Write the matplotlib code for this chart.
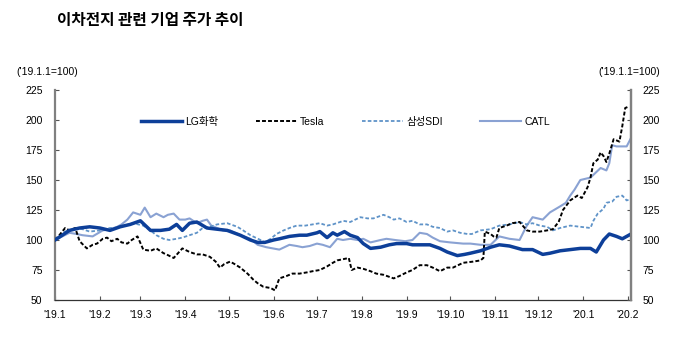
import numpy as np
import pandas as pd
import matplotlib
matplotlib.use("Agg")
import matplotlib.pyplot as plt

plt.rcParams['font.family'] = ['Liberation Sans', 'Noto Sans CJK KR', 'DejaVu Sans']

# days since 2019-01-01, index ('19.1.1 = 100)
lg_days = [0, 5, 10, 17, 24, 31, 38, 45, 52, 59, 66, 73, 79, 84, 88, 93, 98, 105, 112, 119,
           128, 135, 140, 145, 151, 155, 162, 169, 174, 181, 183, 188, 192, 195, 200, 204,
           209, 213, 218, 225, 231, 236, 243, 247, 252, 259, 266, 271, 278, 283, 287, 294,
           301, 307, 314, 323, 330, 337, 342, 349, 356, 363, 370, 374, 379, 383, 388, 392,
           395, 398]
lg_vals = [100, 104, 108, 110, 111, 110, 108, 111, 113, 116, 108, 108, 109, 113, 108, 114, 115,
           110, 109, 108, 104, 100, 98, 98, 100, 101, 103, 104, 104, 106, 107, 102, 106, 104,
           107, 104, 102, 97, 93, 94, 96, 97, 97, 96, 96, 96, 93, 90, 87, 88, 89, 91, 94, 96,
           95, 92, 92, 88, 89, 91, 92, 93, 93, 90, 100, 105, 103, 101, 103, 105]

tesla_days = [0, 3, 7, 10, 14, 17, 22, 26, 29, 33, 36, 39, 43, 46, 50, 53, 57, 61, 66, 70, 75,
              77, 82, 85, 88, 93, 98, 102, 107, 111, 114, 117, 121, 124, 128, 133, 137, 140,
              144, 149, 152, 155, 160, 164, 169, 174, 178, 183, 188, 192, 195, 199, 203, 205,
              209, 213, 218, 222, 227, 234, 238, 243, 247, 252, 257, 261, 266, 271, 275, 282,
              289, 294, 296, 297, 301, 303, 305, 307, 312, 316, 321, 326, 330, 335, 340, 344,
              348, 351, 356, 361, 364, 368, 370, 372, 375, 377, 379, 381, 383, 386, 388, 390,
              392, 394, 396]
tesla_vals = [100, 104, 110, 108, 110, 99, 93, 96, 97, 101, 102, 99, 101, 98, 97, 100, 103, 92,
              91, 93, 89, 88, 85, 89, 93, 90, 88, 88, 86, 82, 77, 80, 82, 80, 77, 72, 67, 64,
              61, 60, 58, 68, 70, 72, 72, 73, 74, 75, 78, 81, 83, 84, 85, 75, 77, 76, 74, 72,
              71, 68, 70, 73, 75, 79, 79, 77, 74, 77, 77, 81, 82, 83, 85, 107, 105, 103, 102,
              110, 112, 114, 115, 108, 107, 107, 108, 109, 115, 125, 133, 137, 135, 144, 152,
              164, 167, 173, 170, 165, 172, 184, 183, 182, 195, 210, 211]

sdi_days = [0, 3, 7, 10, 15, 19, 24, 31, 38, 43, 48, 54, 61, 66, 70, 75, 79, 84, 88, 93, 98,
            102, 107, 112, 119, 126, 130, 135, 142, 145, 149, 153, 158, 162, 167, 173, 178,
            183, 188, 192, 197, 199, 204, 211, 216, 220, 227, 231, 234, 238, 243, 247, 252,
            257, 261, 266, 271, 275, 280, 285, 288, 294, 301, 307, 314, 321, 326, 330, 335,
            340, 344, 349, 356, 363, 370, 372, 375, 379, 381, 385, 388, 392, 395, 398]
sdi_vals = [100, 103, 107, 108, 110, 109, 107, 108, 110, 110, 112, 114, 112, 108, 104, 101,
            100, 101, 102, 104, 106, 110, 111, 113, 114, 111, 108, 104, 100, 98, 101, 105, 108,
            110, 112, 112, 113, 114, 112, 113, 115, 116, 115, 119, 118, 118, 121, 119, 117,
            118, 115, 116, 113, 113, 111, 110, 107, 108, 106, 105, 105, 108, 109, 112, 113,
            115, 113, 114, 112, 111, 108, 110, 112, 111, 110, 116, 122, 126, 131, 132, 136,
            137, 133, 134]

catl_days = [0, 5, 10, 15, 19, 26, 33, 38, 43, 46, 50, 54, 59, 62, 66, 70, 75, 78, 82, 86, 90,
             93, 98, 102, 105, 108, 112, 116, 121, 128, 135, 140, 146, 155, 162, 167, 171, 176,
             181, 185, 190, 195, 199, 204, 209, 213, 218, 225, 229, 235, 242, 247, 252, 257,
             261, 266, 273, 282, 287, 294, 301, 307, 314, 321, 326, 330, 337, 342, 349, 353,
             356, 359, 363, 370, 377, 381, 383, 385, 388, 395, 398]
catl_vals = [100, 103, 106, 105, 104, 103, 108, 109, 111, 113, 117, 123, 121, 127, 119, 122,
             119, 121, 122, 117, 117, 118, 114, 116, 117, 112, 110, 108, 108, 104, 101, 96, 94,
             92, 96, 95, 94, 95, 97, 96, 94, 101, 100, 101, 100, 101, 98, 100, 101, 100, 99,
             100, 106, 105, 102, 99, 98, 97, 97, 96, 96, 103, 101, 100, 112, 119, 117, 123,
             128, 131, 137, 142, 150, 152, 160, 158, 164, 179, 178, 178, 185]

month_labels = ["'19.1", "'19.2", "'19.3", "'19.4", "'19.5", "'19.6", "'19.7", "'19.8",
                "'19.9", "'19.10", "'19.11", "'19.12", "'20.1", "'20.2"]

start = pd.Timestamp("2019-01-01")


def to_dates(days):
    return start + pd.to_timedelta(days, unit="D")


fig = plt.figure(figsize=(6.8, 3.51), dpi=100)
ax = fig.add_axes([55 / 680, 1 - 300 / 351, (631 - 55) / 680, (300 - 90) / 351])

ax.plot(to_dates(catl_days), catl_vals, color="#8aa2d3", lw=1.5, label="CATL", zorder=2)
ax.plot(to_dates(sdi_days), sdi_vals, color="#5f93c8", lw=1.3, dashes=(2.0, 1.2),
        label="삼성SDI", zorder=3)
ax.plot(to_dates(tesla_days), tesla_vals, color="black", lw=1.4, dashes=(2.0, 1.1),
        label="Tesla", zorder=4)
ax.plot(to_dates(lg_days), lg_vals, color="#0d3f99", lw=2.5, label="LG화학", zorder=5)

xt = pd.date_range("2019-01-01", "2020-02-01", freq="MS")
ax.set_xticks(xt)
ax.set_xticklabels(month_labels)
ax.set_xlim(start, to_dates([398])[0])
ax.set_ylim(50, 225)
ax.set_yticks(np.arange(50, 226, 25))

ax.spines["top"].set_visible(False)
ax.spines["left"].set_color("#808080")
ax.spines["left"].set_linewidth(1.6)
ax.spines["right"].set_color("#808080")
ax.spines["right"].set_linewidth(1.6)
ax.spines["bottom"].set_color("#333333")
ax.spines["bottom"].set_linewidth(0.9)
ax.tick_params(axis="y", direction="in", length=3, width=0.8, color="#555555",
               labelsize=7.5, pad=9)
ax.tick_params(axis="x", direction="in", length=3, width=0.8, color="#555555",
               labelsize=7.5, pad=7)

ax2 = ax.twinx()
ax2.set_ylim(50, 225)
ax2.set_yticks(np.arange(50, 226, 25))
ax2.tick_params(axis="y", direction="in", length=3, width=0.8, color="#555555",
                labelsize=7.5, pad=8)
for s in ["top", "left", "bottom"]:
    ax2.spines[s].set_visible(False)
ax2.spines["right"].set_color("#808080")
ax2.spines["right"].set_linewidth(1.6)

fig.text(16 / 680, 1 - 72 / 351, "('19.1.1=100)", fontsize=7.5, va="center", ha="left")
fig.text(660 / 680, 1 - 72 / 351, "('19.1.1=100)", fontsize=7.5, va="center", ha="right")

fig.text(57 / 680, 1 - 20 / 351, "이차전지 관련 기업 주가 추이", fontsize=11.3,
         fontweight="black", family=["Noto Sans CJK KR"], va="center", ha="left")

handles, labels = ax.get_legend_handles_labels()
order = [3, 2, 1, 0]
fig.legend([handles[i] for i in order], [labels[i] for i in order],
           loc="center left", bbox_to_anchor=(141 / 680, 1 - 122 / 351), ncol=4,
           frameon=False, fontsize=7.5, handlelength=3.9, handletextpad=0.35,
           columnspacing=3.6, borderpad=0, borderaxespad=0)

fig.savefig("out.png", dpi=100)
